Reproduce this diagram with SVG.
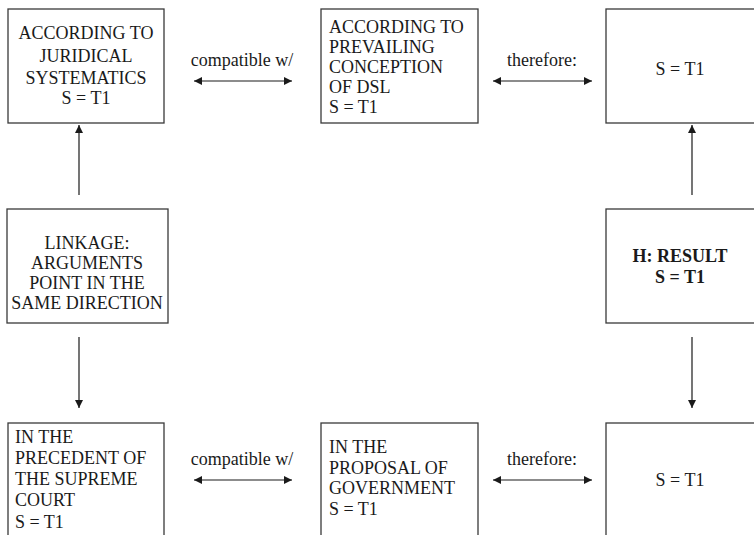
<svg xmlns="http://www.w3.org/2000/svg" width="754" height="535" viewBox="0 0 754 535">
  <style>
    .box { fill: #ffffff; stroke: #3a3a3a; stroke-width: 1.3; }
    .t { font-family: 'Liberation Serif', 'DejaVu Serif', serif; font-size: 18px; fill: #1a1a1a; }
    .c { text-anchor: middle; }
    .b { font-weight: bold; }
    .link { stroke: #1a1a1a; stroke-width: 1.2; fill: none; }
  </style>
  <defs>
    <marker id="head" viewBox="0 0 10 10" refX="10" refY="5" markerWidth="9" markerHeight="8" markerUnits="userSpaceOnUse" orient="auto-start-reverse">
      <path d="M0,0 L10,5 L0,10 Z" fill="#1a1a1a"/>
    </marker>
  </defs>
  <rect width="754" height="535" fill="#ffffff"/>

  <g id="juridical">
    <rect class="box" x="8" y="9" width="156" height="114"/>
    <text class="t c" x="86" y="39">ACCORDING TO</text>
    <text class="t c" x="86" y="62">JURIDICAL</text>
    <text class="t c" x="86" y="84">SYSTEMATICS</text>
    <text class="t c" x="86" y="104">S = T1</text>
  </g>

  <g id="prevailing">
    <rect class="box" x="321" y="9" width="157" height="114"/>
    <text class="t" x="329" y="33">ACCORDING TO</text>
    <text class="t" x="329" y="53">PREVAILING</text>
    <text class="t" x="329" y="73">CONCEPTION</text>
    <text class="t" x="329" y="93">OF DSL</text>
    <text class="t" x="329" y="113">S = T1</text>
  </g>

  <g id="top-result">
    <rect class="box" x="606" y="9" width="160" height="114"/>
    <text class="t c" x="680" y="75">S = T1</text>
  </g>

  <g id="linkage">
    <rect class="box" x="7" y="209" width="161" height="114"/>
    <text class="t c" x="87" y="249">LINKAGE:</text>
    <text class="t c" x="87" y="269">ARGUMENTS</text>
    <text class="t c" x="87" y="289">POINT IN THE</text>
    <text class="t c" x="87" y="309">SAME DIRECTION</text>
  </g>

  <g id="hypothesis">
    <rect class="box" x="606" y="209" width="160" height="114"/>
    <text class="t c b" x="680" y="262">H: RESULT</text>
    <text class="t c b" x="680" y="283">S = T1</text>
  </g>

  <g id="precedent">
    <rect class="box" x="8" y="423" width="156" height="120"/>
    <text class="t" x="15" y="443">IN THE</text>
    <text class="t" x="15" y="464">PRECEDENT OF</text>
    <text class="t" x="15" y="485">THE SUPREME</text>
    <text class="t" x="15" y="506">COURT</text>
    <text class="t" x="15" y="528">S = T1</text>
  </g>

  <g id="proposal">
    <rect class="box" x="321" y="423" width="157" height="120"/>
    <text class="t" x="329" y="453">IN THE</text>
    <text class="t" x="329" y="474">PROPOSAL OF</text>
    <text class="t" x="329" y="494">GOVERNMENT</text>
    <text class="t" x="329" y="515">S = T1</text>
  </g>

  <g id="bottom-result">
    <rect class="box" x="606" y="423" width="160" height="120"/>
    <text class="t c" x="680" y="486">S = T1</text>
  </g>

  <g id="connectors">
    <!-- horizontal two-way links -->
    <line class="link" x1="194" y1="81" x2="292" y2="81" marker-start="url(#head)" marker-end="url(#head)"/>
    <text class="t c" x="242" y="66">compatible w/</text>
    <line class="link" x1="493" y1="81" x2="592" y2="81" marker-start="url(#head)" marker-end="url(#head)"/>
    <text class="t c" x="542" y="66">therefore:</text>

    <line class="link" x1="194" y1="480" x2="292" y2="480" marker-start="url(#head)" marker-end="url(#head)"/>
    <text class="t c" x="242" y="465">compatible w/</text>
    <line class="link" x1="493" y1="480" x2="592" y2="480" marker-start="url(#head)" marker-end="url(#head)"/>
    <text class="t c" x="542" y="465">therefore:</text>

    <!-- vertical links -->
    <line class="link" x1="79" y1="195" x2="79" y2="125" marker-end="url(#head)"/>
    <line class="link" x1="692" y1="195" x2="692" y2="125" marker-end="url(#head)"/>
    <line class="link" x1="79" y1="337" x2="79" y2="408" marker-end="url(#head)"/>
    <line class="link" x1="692" y1="337" x2="692" y2="408" marker-end="url(#head)"/>
  </g>
</svg>
